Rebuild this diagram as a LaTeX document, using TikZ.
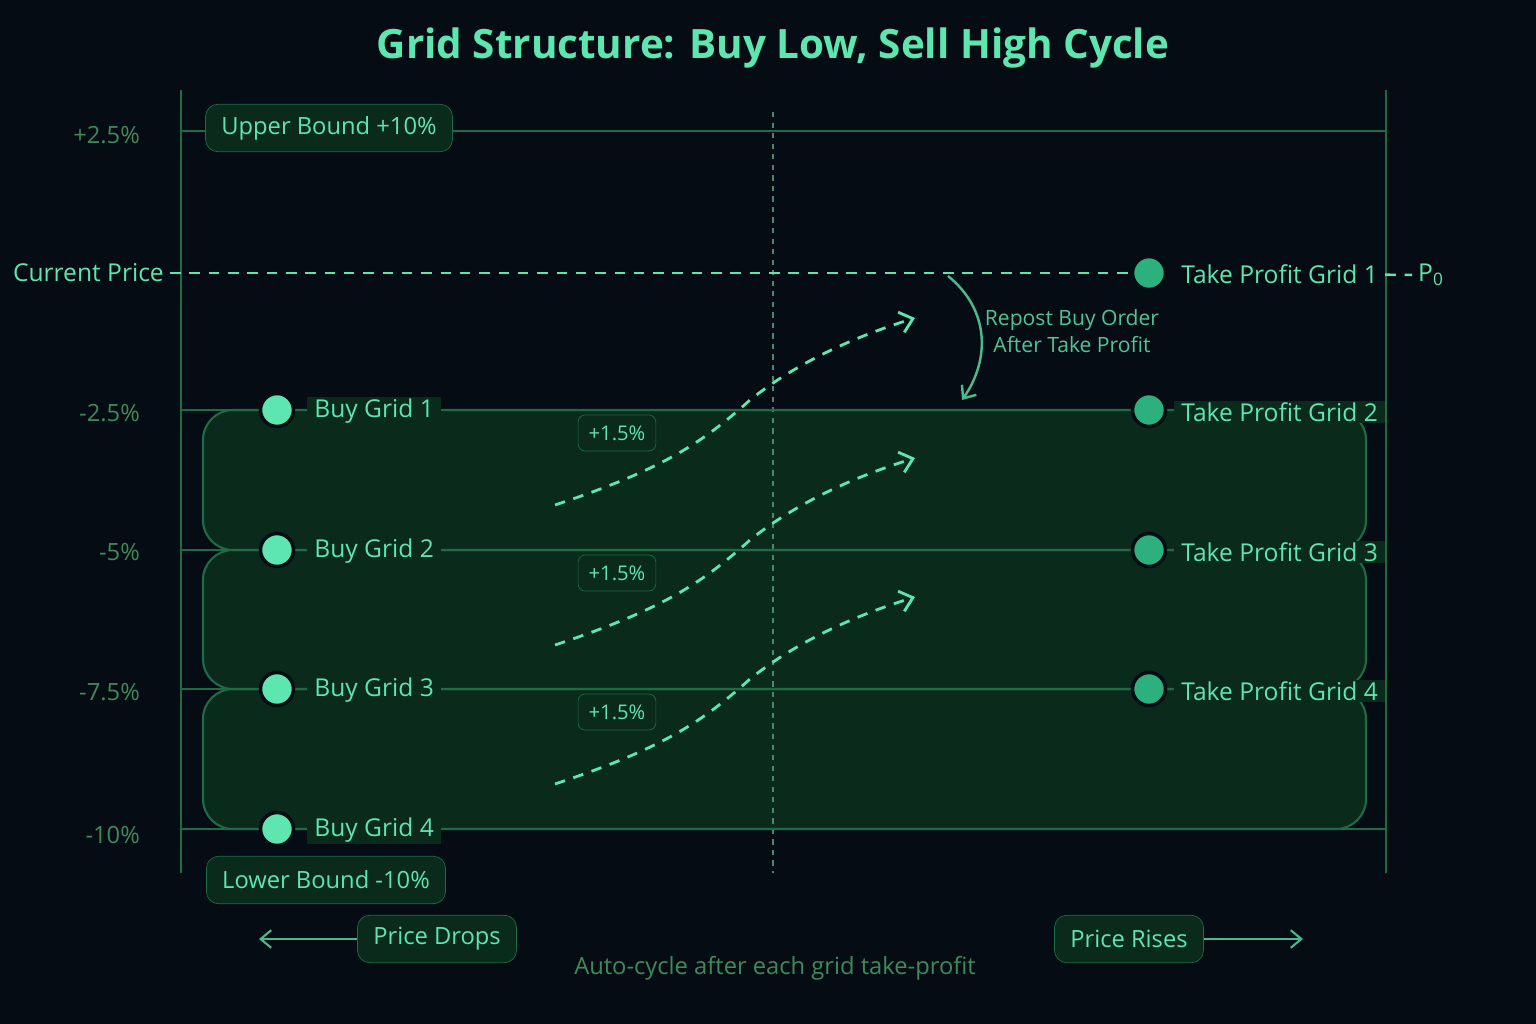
\documentclass[tikz,border=0pt]{standalone}
\usepackage{fontspec}
\setmainfont{Open Sans}
\usetikzlibrary{arrows.meta}
\definecolor{bgc}{HTML}{050C14}
\definecolor{mint}{HTML}{5EE6B0}
\definecolor{linec}{HTML}{1E6B45}
\definecolor{bandc}{HTML}{0A2A1C}
\definecolor{dimtxt}{HTML}{3F8A5C}
\definecolor{dotc}{HTML}{2BB07E}
\tikzset{
  tag/.style={draw=linec, fill=bandc, rounded corners=7pt, text=mint, font=\fontsize{13.5}{16}\selectfont, minimum height=0.95cm, inner xsep=9pt},
  pct/.style={draw=linec, fill=bandc, rounded corners=4pt, text=mint, font=\fontsize{11.5}{14}\selectfont, minimum height=0.72cm, inner xsep=6pt},
  lvl/.style={text=dimtxt, font=\fontsize{13.5}{16}\selectfont, anchor=east},
  gridtxt/.style={text=mint, font=\fontsize{14}{17}\selectfont, anchor=west, fill=bandc, inner xsep=4pt, inner ysep=1pt},
  buydot/.style={circle, fill=mint, draw=bgc, line width=2pt, minimum size=0.66cm, inner sep=0pt},
  tpdot/.style={circle, fill=dotc, draw=bgc, line width=2pt, minimum size=0.66cm, inner sep=0pt},
  band/.style={draw=linec, fill=bandc, line width=1.2pt, rounded corners=0.6cm},
  move/.style={mint, dashed, line width=1.6pt, dash pattern=on 6pt off 5pt, -{Straight Barb[length=7pt,width=12pt]}}
}
\begin{document}
\begin{tikzpicture}[x=0.02cm, y=-0.02cm]
	\useasboundingbox (0,0) rectangle (1536,1024);
	\fill[bgc] (0,0) rectangle (1536,1024);
	\node[text=mint, font=\bfseries\fontsize{23}{28}\selectfont] (title) at (773,48) {Grid Structure: Buy Low, Sell High Cycle};
	% bands between buy grids
	\draw[band] (203,689) rectangle (1366,829);
	\draw[band] (203,550) rectangle (1366,689);
	\draw[band] (203,410) rectangle (1366,550);
	% axes and levels
	\draw[linec, line width=1pt] (181,90) -- (181,873);
	\draw[linec, line width=1pt] (1386,90) -- (1386,873);
	\draw[linec!80, dashed, line width=0.8pt] (773,112) -- (773,873);
	\foreach \yy in {131,410,550,689,829}
		\draw[linec, line width=1.2pt] (181,\yy) -- (1386,\yy);
	\node[lvl] (l1) at (146,135) {+2.5\%};
	\node[lvl] (l2) at (146,413) {-2.5\%};
	\node[lvl] (l3) at (146,552) {-5\%};
	\node[lvl] (l4) at (146,692) {-7.5\%};
	\node[lvl] (l5) at (146,835) {-10\%};
	\node[tag] (ub) at (329,128) {Upper Bound +10\%};
	\node[tag] (lb) at (326,880) {Lower Bound -10\%};
	% current price
	\node[text=mint, font=\fontsize{14}{17}\selectfont, anchor=east] (cp) at (170,273) {Current Price};
	\node[tpdot] (t1) at (1149,273) {};
	\node[gridtxt, fill=bgc] (t1l) at (1174,274) {Take Profit Grid 1};
	\node[text=mint, font=\fontsize{14}{17}\selectfont, anchor=west] (p0) at (1412,275) {P\textsubscript{0}};
	\draw[mint, dashed, line width=1.4pt, dash pattern=on 6pt off 5pt] (cp) -- (t1);
	\draw[mint, dashed, line width=1.4pt, dash pattern=on 6pt off 5pt] (t1l) -- (p0);
	% grids
	\foreach \i/\yy in {1/410,2/550,3/689,4/829} {
		\node[buydot] (b\i) at (277,\yy) {};
		\node[gridtxt] (b\i l) at (307,\yy+1) {Buy Grid \i};
	}
	\foreach \i/\yy in {2/410,3/550,4/689} {
		\node[tpdot] (t\i) at (1149,\yy) {};
		\node[gridtxt] (t\i l) at (1174,\yy+2) {Take Profit Grid \i};
	}
	% moves
	\foreach \k/\dy in {1/0,2/140,3/279} {
		\node[pct] (pc\k) at (617,433+\dy) {+1.5\%};
		\coordinate (s\k) at (555,505+\dy);
		\coordinate (e\k) at (915,318+\dy);
		\draw[move] (s\k) .. controls (660,470+\dy) and (700,445+\dy) .. (750,400+\dy) .. controls (800,360+\dy) and (860,335+\dy) .. (e\k);
	}
	% repost
	\coordinate (ra) at (948,276);
	\coordinate (rb) at (962,400);
	\draw[mint!80!black, line width=1.4pt, -{Straight Barb[length=6pt,width=10pt]}] (ra) .. controls (990,310) and (990,360) .. (rb);
	\node[text=mint!85!black, font=\fontsize{12}{15}\selectfont, align=center] (rp) at (1072,331) {Repost Buy Order\\After Take Profit};
	% bottom
	\node[tag] (pd) at (437,939) {Price Drops};
	\node[tag] (pr) at (1129,939) {Price Rises};
	\coordinate (pdl) at (259,939);
	\coordinate (prr) at (1303,939);
	\draw[mint!80!black, line width=1.2pt, -{Straight Barb[length=6pt,width=10pt]}] (pd) -- (pdl);
	\draw[mint!80!black, line width=1.2pt, -{Straight Barb[length=6pt,width=10pt]}] (pr) -- (prr);
	\node[text=dimtxt, font=\fontsize{13.5}{16}\selectfont] (note) at (775,968) {Auto-cycle after each grid take-profit};
\end{tikzpicture}
\end{document}
